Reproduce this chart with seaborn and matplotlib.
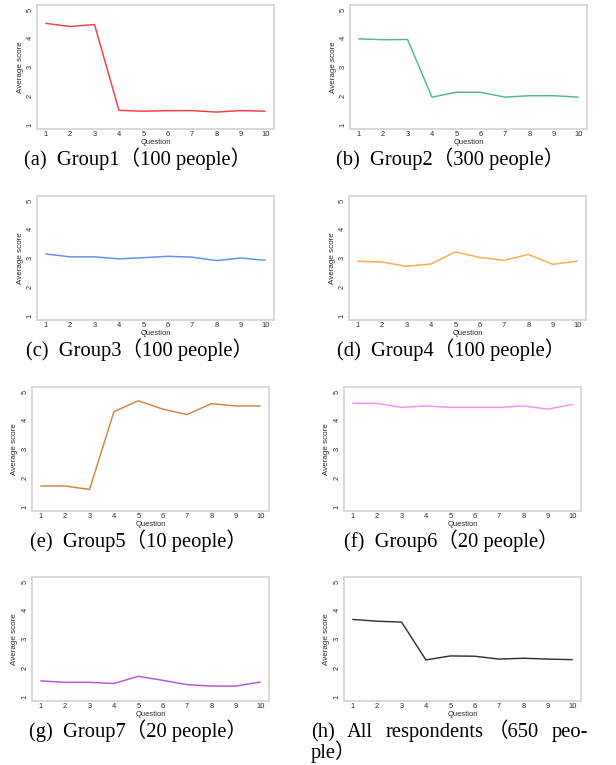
import matplotlib
matplotlib.use("Agg")
import matplotlib.pyplot as plt
import seaborn as sns
import pandas as pd

# ---------------- data ----------------
questions = [1, 2, 3, 4, 5, 6, 7, 8, 9, 10]
group1 = [4.52, 4.41, 4.48, 1.49, 1.46, 1.48, 1.48, 1.43, 1.48, 1.46]
group2 = [3.98, 3.95, 3.96, 1.95, 2.12, 2.12, 1.95, 2.00, 2.00, 1.95]
group3 = [3.14, 3.04, 3.04, 2.97, 3.01, 3.06, 3.03, 2.91, 3.00, 2.92]
group4 = [2.89, 2.86, 2.71, 2.79, 3.21, 3.02, 2.92, 3.12, 2.78, 2.89]
group5 = [1.71, 1.71, 1.59, 4.30, 4.68, 4.39, 4.20, 4.58, 4.50, 4.50]
group6 = [4.59, 4.59, 4.45, 4.50, 4.45, 4.45, 4.45, 4.50, 4.39, 4.55]
group7 = [1.54, 1.49, 1.49, 1.45, 1.70, 1.56, 1.41, 1.36, 1.36, 1.50]
all_resp = [3.68, 3.62, 3.59, 2.27, 2.41, 2.40, 2.30, 2.33, 2.30, 2.28]

series = [group1, group2, group3, group4, group5, group6, group7, all_resp]
colors = ["#ff3b3b", "#52b98c", "#5b8dfb", "#ffad3f", "#d0853f", "#fb8cfb",
          "#b553dd", "#333333"]
captions = ["(a)  Group1（100 people）", "(b)  Group2（300 people）",
            "(c)  Group3（100 people）", "(d)  Group4（100 people）",
            "(e)  Group5（10 people）", "(f)  Group6（20 people）",
            "(g)  Group7（20 people）", None]
caption_h_line1 = ["(h)", "All", "respondents", "（650", "peo-"]
caption_h_line2 = "ple）"
y_ticks = [1, 2, 3, 4, 5]
x_label = "Question"
y_label = "Average score"

# ---------------- layout (pixels) ----------------
W, H = 616, 765
boxes = [(37, 5), (350, 5), (37, 196), (349, 196),
         (32, 387), (344, 387), (32, 577), (344, 577)]
BW, BH = 237, 124
cap_cx = [138, 450, 139, 451, 138, 451, 138, None]

sns.set_theme(style="white")
plt.rcParams["font.family"] = ["Liberation Sans", "DejaVu Sans"]

fig = plt.figure(figsize=(W / 100, H / 100), dpi=100)
fig.patch.set_facecolor("white")

serif = ["Liberation Serif", "Noto Sans CJK SC", "DejaVu Serif"]
CAP_FS = 14.8

for i, (vals, col) in enumerate(zip(series, colors)):
    lx, ty = boxes[i]
    ax = fig.add_axes([lx / W, 1 - (ty + BH) / H, BW / W, BH / H])
    df = pd.DataFrame({"q": questions, "score": vals})
    sns.lineplot(data=df, x="q", y="score", color=col, linewidth=1.05, ax=ax)
    ax.set_xlim(0.64, 10.36)
    ax.set_ylim(0.84, 5.16)
    ax.set_xticks(questions)
    ax.set_yticks(y_ticks)
    ax.set_xticklabels([str(q) for q in questions])
    ax.set_yticklabels([str(t) for t in y_ticks], rotation=90, va="center")
    ax.tick_params(axis="x", length=0, pad=1.6, labelsize=5.4, labelcolor="#2a2a2a")
    ax.tick_params(axis="y", length=0, pad=2.4, labelsize=5.4, labelcolor="#2a2a2a")
    for sp in ax.spines.values():
        sp.set_color("#d6d6d6")
        sp.set_linewidth(1.3)
        sp.set_visible(True)
    ax.set_xlabel(x_label, fontsize=5.4, color="#2a2a2a")
    ax.set_ylabel(y_label, fontsize=5.8, color="#2a2a2a")
    ax.xaxis.set_label_coords(0.5, -13.5 / BH)
    ax.xaxis.label.set_va("center")
    ax.yaxis.set_label_coords(-17 / BW, 0.5)
    ax.yaxis.label.set_va("center")
    ax.yaxis.label.set_ha("center")

    base = ty + BH + 36
    if captions[i] is not None:
        fig.text(cap_cx[i] / W, 1 - base / H, captions[i], ha="center",
                 va="baseline", fontsize=CAP_FS, family=serif, color="black")

# justified two-line caption for (h)
renderer = fig.canvas.get_renderer()
left_px, right_px = 311, 588
b1, b2 = 737, 758
em_px = CAP_FS * 100 / 72
texts = []
for w in caption_h_line1:
    t = fig.text(0, 1 - b1 / H, w, ha="left", va="baseline", fontsize=CAP_FS,
                 family=serif, color="black")
    texts.append(t)
# full-width opening bracket carries blank space on its left half
leads = [0.4 * em_px if w.startswith("（") else 0.0 for w in caption_h_line1]
widths = [t.get_window_extent(renderer).width - ld for t, ld in zip(texts, leads)]
gap = ((right_px - left_px) - sum(widths)) / (len(texts) - 1)
x = left_px
for t, wdt, ld in zip(texts, widths, leads):
    t.set_x((x - ld) / W)
    x += wdt + gap
fig.text(left_px / W, 1 - b2 / H, caption_h_line2, ha="left", va="baseline",
         fontsize=CAP_FS, family=serif, color="black")

fig.savefig("out.png", dpi=100, facecolor="white")
